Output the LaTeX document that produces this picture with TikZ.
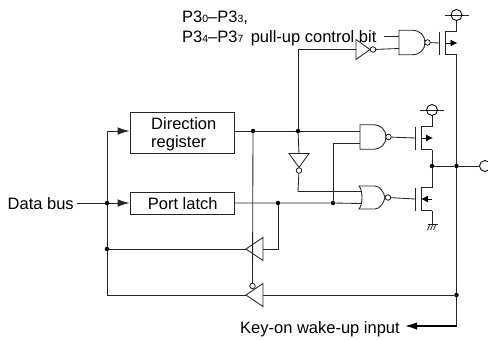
\documentclass[tikz,border=0pt]{standalone}
\usepackage{fontspec}
\setmainfont{Liberation Sans}
\usetikzlibrary{arrows.meta}
\newcommand{\idx}[1]{{\fontsize{10.5}{10.5}\selectfont #1}}
\tikzset{
  wire/.style={line width=.85pt,draw=black!85},
  sigarrow/.style={wire,-{Latex[length=12pt,width=7.5pt]}},
  keyarrow/.style={line width=1.3pt,-{Latex[length=12pt,width=7.5pt]}},
  fetarrow/.style={line width=.85pt,-{Latex[length=7pt,width=7pt]}},
  regbox/.style={draw=black!85,line width=.85pt,minimum width=104pt,inner sep=0pt},
  dot/.style={circle,fill=black,inner sep=0pt,minimum size=4.5pt},
  bubble/.style={circle,draw=black,line width=.7pt,fill=white,inner sep=0pt,minimum size=5.5pt},
  pad/.style={circle,draw=black,line width=.85pt,inner sep=0pt,minimum size=11pt},
  label/.style={inner sep=0pt,align=left,font=\fontsize{16.5}{17.5}\selectfont},
  nandsym/.pic={
    \draw[wire] (0,-12.25) -- (13,-12.25) .. controls (21,-12.25) and (26,-7) .. (26,0)
      .. controls (26,7) and (21,12.25) .. (13,12.25) -- (0,12.25) -- cycle;
    \coordinate (-a) at (0,-6);
    \coordinate (-b) at (0,6);
    \node[bubble] (-o) at (28.5,0) {};
  },
  norsym/.pic={
    \draw[wire] (0,-11.5) .. controls (4,-7) and (4,7) .. (0,11.5) -- (16,11.5)
      .. controls (21,11.5) and (25,5) .. (26,0) .. controls (25,-5) and (21,-11.5) .. (16,-11.5) -- cycle;
    \coordinate (-a) at (2.5,-6);
    \coordinate (-b) at (2.5,6);
    \node[bubble] (-o) at (29,0) {};
  },
  invsym/.pic={
    \draw[wire] (0,-10) -- (14,0) -- (0,10) -- cycle;
    \coordinate (-i) at (0,0);
    \node[bubble] (-o) at (17,0) {};
  },
  bufsym/.pic={
    \draw[wire] (0,-11.5) -- (-17,0) -- (0,11.5) -- cycle;
    \coordinate (-i) at (0,0);
    \coordinate (-o) at (-17,0);
  },
  fetsym/.pic={
    \draw[wire] (0,-11.5) -- (0,11.5);
    \draw[wire] (17,-11.5) -- (6,-11.5) -- (6,11.5) -- (17,11.5);
    \coordinate (-g) at (0,0);
    \coordinate (-u) at (17,-11.5);
    \coordinate (-d) at (17,11.5);
    \coordinate (-m) at (17,0);
    \coordinate (-c) at (6,0);
  },
  supplysym/.pic={
    \draw[wire] (-12,0) -- (12,0);
    \node[pad] (-p) at (0,0) {};
  },
  gndsym/.pic={
    \coordinate (-t) at (0,0);
    \draw[wire] (-4.5,0) -- (5.5,0);
    \draw[wire] (-2,0) -- (-4.5,6) (1,0) -- (-1.5,6) (4,0) -- (1.5,6);
  },
}
\begin{document}
\begin{tikzpicture}[x=1pt,y=-1pt]
        \useasboundingbox (0,0) rectangle (488,340);

        % boxes and texts
        \node[regbox,minimum height=41pt] (dir) at (182,132.5) {};
        \node[regbox,minimum height=22pt] (latch) at (182,203) {};
        \begin{scope}[every node/.style={label}]
          \node[anchor=west] (dirtext) at (151,134) {Direction\\register};
          \node[anchor=base] (latchtext) at (182.7,209.5) {Port latch};
          \node[anchor=base west] (bus) at (7.5,209) {Data bus};
          \node[anchor=base west] (p1) at (182,22.5) {P3\idx{0}--P3\idx{3},};
          \node[anchor=base west] (p2) at (182,42) {P3\idx{4}--P3\idx{7} \,pull-up control bit};
          \node[anchor=base west] (key) at (240,333) {Key-on wake-up input};
        \end{scope}

        % junctions
        \begin{scope}[every node/.style={dot}]
          \node (n1) at (253,131) {};
          \node (n2) at (298,131) {};
          \node (n3) at (107,203) {};
          \node (n4) at (278,203) {};
          \node (n5) at (333,203) {};
          \node (n6) at (107,249) {};
          \node (n7) at (432,166) {};
          \node (n8) at (456.5,166) {};
          \node (n9) at (456.5,295) {};
        \end{scope}
        \node[pad] (out) at (485,166) {};

        % gates
        \pic (nandA) at (399,42.5) {nandsym};
        \pic (nandB) at (360,137) {nandsym};
        \pic (norA) at (359,197.5) {norsym};
        \pic (invA) at (356,49.5) {invsym};
        \pic[rotate=-90] (invB) at (299,153.5) {invsym};
        \pic (bufA) at (263,249) {bufsym};
        \pic (bufB) at (263,295) {bufsym};
        \node[bubble] (en) at (252.5,286) {};

        % transistors
        \pic (fetA) at (439.5,43) {fetsym};
        \pic (fetB) at (415,138) {fetsym};
        \pic (fetC) at (415,199) {fetsym};
        \draw[fetarrow] (fetA-c) -- ([xshift=1pt]fetA-m);
        \draw[fetarrow] (fetB-c) -- ([xshift=1pt]fetB-m);
        \draw[fetarrow] (fetC-m) -- (fetC-c);
        \pic (vddA) at (456.5,15) {supplysym};
        \pic (vddB) at (432,110) {supplysym};
        \pic (gnd) at (432,224) {gndsym};

        % helpers for corners
        \coordinate (c1) at (107,131);
        \coordinate (c2) at (107,295);
        \coordinate (c3) at (456.5,326);
        \coordinate (c4) at (278,249);
        \coordinate (c5) at (298,49.5);
        \coordinate (c6) at (333,143);
        \coordinate (c7) at (298,191.5);
        \coordinate (c8) at (384,36.5);
        \coordinate (c9) at (77,203);

        % connectors
        \begin{scope}[every path/.style={wire}]
          \path[draw] (c9) -- (n3);
          \path[draw] (n3) -- (c1);
          \path[draw] (n3) -- (n6) -- (c2) -- (bufB-o);
          \path[draw] (dir.east |- n1) -- (n1) -- (n2) -- (nandB-a);
          \path[draw] (n2) -- (c5) -- (invA-i);
          \path[draw] (invA-o) -- (nandA-b);
          \path[draw] (c8) -- (nandA-a);
          \path[draw] (nandA-o) -- (fetA-g);
          \path[draw] (n2) -- (invB-i);
          \path[draw] (invB-o) -- (c7) -- (norA-a);
          \path[draw] (latch) -- (n4) -- (n5) -- (norA-b);
          \path[draw] (n5) -- (c6) -- (nandB-b);
          \path[draw] (nandB-o) -- (fetB-g);
          \path[draw] (norA-o) -- (fetC-g);
          \path[draw] (n4) -- (c4) -- (bufA-i);
          \path[draw] (bufA-o) -- (n6);
          \path[draw] (n1) -- (en);
          \path[draw] (n9) -- (bufB-i);
          \path[draw] (fetA-d) -- (n8) -- (n9) -- (c3);
          \path[draw] (vddA-p) -- (fetA-u);
          \path[draw] (vddB-p) -- (fetB-u);
          \path[draw] (fetB-d) -- (n7) -- (fetC-u);
          \path[draw] (fetC-d) -- (gnd-t);
          \path[draw] (n7) -- (n8) -- (out);
        \end{scope}

        % arrows
        \draw[sigarrow] (c1) -- (dir.west |- c1);
        \draw[sigarrow] (n3) -- (latch);
        \draw[keyarrow] (c3) -- (405,326);
      \end{tikzpicture}
\end{document}
